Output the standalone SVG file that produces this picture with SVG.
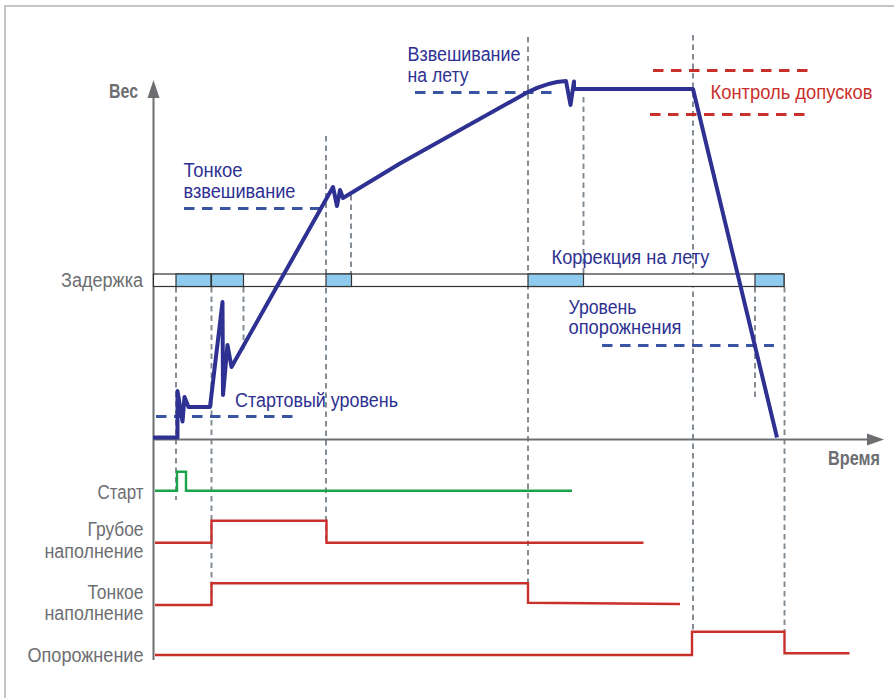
<svg xmlns="http://www.w3.org/2000/svg" width="894" height="698" viewBox="0 0 894 698">
<style>
.lbl{font-family:"Liberation Sans",Arial,sans-serif;font-size:19.5px;fill:#6d6e71}
.lblb{font-family:"Liberation Sans",Arial,sans-serif;font-size:19.5px;font-weight:bold;fill:#6d6e71}
.blt{font-family:"Liberation Sans",Arial,sans-serif;font-size:19.5px;fill:#2e3192}
.rdt{font-family:"Liberation Sans",Arial,sans-serif;font-size:19.5px;fill:#c9302c}
.vd{stroke:#7f8992;stroke-width:1.9;stroke-dasharray:5.5 4;fill:none}
.bd{stroke:#3a54a4;stroke-width:3;stroke-dasharray:10.5 7.5;fill:none}
.rd{stroke:#c9302c;stroke-width:3;stroke-dasharray:10.5 7.5;fill:none}
.sig{stroke:#c9302c;stroke-width:2.4;fill:none}
.seg{fill:#8ecbee;stroke:#333;stroke-width:1.2}
</style>
<rect width="894" height="698" fill="#fff"/>
<path d="M5,698 V6 H894" fill="none" stroke="#b3b3b3" stroke-width="1.5"/>

<g id="guides">
<line class="vd" x1="176" y1="287" x2="176" y2="500"/>
<line class="vd" x1="211.5" y1="287" x2="211.5" y2="605"/>
<line class="vd" x1="243.5" y1="287" x2="243.5" y2="351"/>
<line class="vd" x1="326" y1="136" x2="326" y2="543"/>
<line class="vd" x1="351" y1="195" x2="351" y2="274"/>
<line class="vd" x1="528" y1="37" x2="528" y2="592"/>
<line class="vd" x1="583.5" y1="97" x2="583.5" y2="274"/>
<line class="vd" x1="693" y1="35" x2="693" y2="632"/>
<line class="vd" x1="755" y1="287" x2="755" y2="398"/>
<line class="vd" x1="784.5" y1="287" x2="784.5" y2="632"/>
</g>

<g id="axes">
<line x1="153.5" y1="96" x2="153.5" y2="660" stroke="#6d6e71" stroke-width="2"/>
<polygon points="153.5,80 147.5,98 159.5,98" fill="#6d6e71"/>
<line x1="153" y1="439.5" x2="869" y2="439.5" stroke="#6d6e71" stroke-width="2"/>
<polygon points="884,439.5 867,433.5 867,445.5" fill="#6d6e71"/>
<text class="lblb" x="109" y="97.5" textLength="29" lengthAdjust="spacingAndGlyphs">Вес</text>
<text class="lblb" x="828" y="465" textLength="52" lengthAdjust="spacingAndGlyphs">Время</text>
</g>

<g id="delay-bar">
<rect x="153.5" y="274" width="630.5" height="12.5" fill="#fff" stroke="#333" stroke-width="1.2"/>
<rect class="seg" x="176" y="274" width="35" height="12.5"/>
<rect class="seg" x="211.5" y="274" width="32" height="12.5"/>
<rect class="seg" x="326" y="274" width="25.5" height="12.5"/>
<rect class="seg" x="528" y="274" width="55.5" height="12.5"/>
<rect class="seg" x="755" y="274" width="29" height="12.5"/>
<text class="lbl" x="61" y="286.5" textLength="82" lengthAdjust="spacingAndGlyphs">Задержка</text>
</g>

<g id="levels">
<line class="bd" x1="156" y1="416.5" x2="296" y2="416.5"/>
<line class="bd" x1="184" y1="208.5" x2="326" y2="208.5"/>
<line class="bd" x1="415" y1="92.5" x2="553" y2="92.5"/>
<line class="bd" x1="602" y1="345.5" x2="774" y2="345.5"/>
<line class="rd" x1="653" y1="70.5" x2="811" y2="70.5"/>
<line class="rd" x1="650" y1="114.5" x2="808" y2="114.5"/>
</g>

<g id="weight-curve">
<path d="M153,437.5 H177.5 V391 L182.5,421.5 L184.5,397 L188.5,407 H210 L222.5,302 L223,395 L227.5,345 L231.5,367 L333,187 L337,206 L340,190 L343,198 L400,163.5 L528,92 Q548,82 566,81 L570.5,105 L574,81.5 V89 H693 L777,437.5" fill="none" stroke="#2e3192" stroke-width="4" stroke-linejoin="round" stroke-linecap="butt"/>
</g>

<g id="labels">
<text class="blt" x="183.5" y="177" textLength="59" lengthAdjust="spacingAndGlyphs">Тонкое</text>
<text class="blt" x="183.5" y="198" textLength="112" lengthAdjust="spacingAndGlyphs">взвешивание</text>
<text class="blt" x="407.5" y="61" textLength="113" lengthAdjust="spacingAndGlyphs">Взвешивание</text>
<text class="blt" x="407.5" y="82" textLength="61" lengthAdjust="spacingAndGlyphs">на лету</text>
<text class="rdt" x="710.5" y="98.5" textLength="162" lengthAdjust="spacingAndGlyphs">Контроль допусков</text>
<text class="blt" x="551.5" y="263.5" textLength="158" lengthAdjust="spacingAndGlyphs">Коррекция на лету</text>
<text class="blt" x="568.5" y="313.5" textLength="68" lengthAdjust="spacingAndGlyphs">Уровень</text>
<text class="blt" x="568.5" y="334" textLength="113" lengthAdjust="spacingAndGlyphs">опорожнения</text>
<text class="blt" x="235" y="407" textLength="163" lengthAdjust="spacingAndGlyphs">Стартовый уровень</text>
</g>

<g id="sig-start">
<text class="lbl" x="97.5" y="498.5" textLength="46" lengthAdjust="spacingAndGlyphs">Старт</text>
<path d="M155,490.7 H177 V471.7 H186 V490.7 H572" fill="none" stroke="#1aa34a" stroke-width="2.4"/>
</g>
<g id="sig-coarse">
<text class="lbl" x="87.5" y="536" textLength="56" lengthAdjust="spacingAndGlyphs">Грубое</text>
<text class="lbl" x="44.5" y="557.5" textLength="99" lengthAdjust="spacingAndGlyphs">наполнение</text>
<path class="sig" d="M155,542.7 H211.5 V520.7 H326.5 V542.7 H643.5"/>
</g>
<g id="sig-fine">
<text class="lbl" x="87.5" y="598.5" textLength="56" lengthAdjust="spacingAndGlyphs">Тонкое</text>
<text class="lbl" x="44.5" y="619.5" textLength="99" lengthAdjust="spacingAndGlyphs">наполнение</text>
<path class="sig" d="M155,605 H211.5 V583.3 H528 V602.7 L680,604"/>
</g>
<g id="sig-empty">
<text class="lbl" x="27.5" y="662" textLength="116" lengthAdjust="spacingAndGlyphs">Опорожнение</text>
<path class="sig" d="M155,655 H692 V631.7 H784.5 V653.3 H849.5"/>
</g>
</svg>
